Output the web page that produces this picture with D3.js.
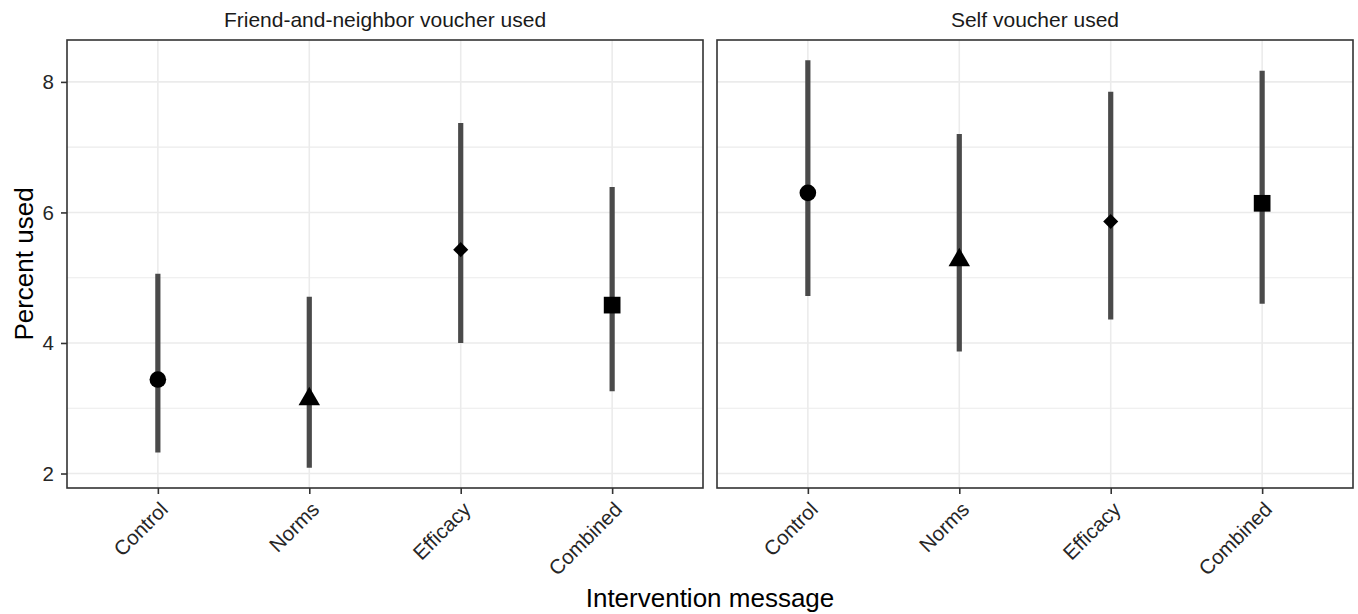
<!DOCTYPE html>
<html>
<head>
<meta charset="utf-8">
<script src="https://cdn.jsdelivr.net/npm/d3@7"></script>
<style>
  body { margin: 0; background: #fff; }
  svg { display: block; font-family: "Liberation Sans", Arial, sans-serif; }
</style>
</head>
<body>
<svg id="chart" width="1358" height="614"></svg>
<script>
// categories and panels
const messages = ["Control", "Norms", "Efficacy", "Combined"];
const panels = ["Friend-and-neighbor voucher used", "Self voucher used"];
const shapes = ["circle", "triangle", "diamond", "square"];

// percent used, with lower / upper interval, per panel
const friendEst = [3.44, 3.14, 5.43, 4.58];
const friendLow = [2.32, 2.09, 4.00, 3.26];
const friendHigh = [5.06, 4.71, 7.37, 6.39];

const selfEst = [6.30, 5.27, 5.86, 6.14];
const selfLow = [4.72, 3.87, 4.36, 4.60];
const selfHigh = [8.33, 7.20, 7.85, 8.17];

const yTicks = [2, 4, 6, 8];
const yMinor = [3, 5, 7];

const panelData = [
  { title: panels[0], est: friendEst, low: friendLow, high: friendHigh },
  { title: panels[1], est: selfEst, low: selfLow, high: selfHigh }
];

const svg = d3.select("#chart");
const panelW = 636, panelTop = 40, panelBottom = 488;
const panelLefts = [67, 717];

// y scale with ggplot-style 5% expansion
const allVals = selfLow.concat(friendLow, selfHigh, friendHigh);
const [ymin, ymax] = d3.extent(allVals);
const pad = (ymax - ymin) * 0.05;
const y = d3.scaleLinear()
  .domain([ymin - pad, ymax + pad])
  .range([panelBottom, panelTop]);

const symbolFor = {
  circle: d3.symbol().type(d3.symbolCircle).size(217),
  triangle: d3.symbol().type(d3.symbolTriangle).size(200),
  square: d3.symbol().type(d3.symbolSquare).size(279),
  diamond: d3.symbol().type(d3.symbolSquare).size(114)
};

panelData.forEach((p, i) => {
  const left = panelLefts[i];
  const x = d3.scalePoint()
    .domain(messages)
    .range([left, left + panelW])
    .padding(0.6);

  const g = svg.append("g");

  // grid
  g.selectAll("line.minor")
    .data(yMinor)
    .join("line")
    .attr("x1", left).attr("x2", left + panelW)
    .attr("y1", d => y(d)).attr("y2", d => y(d))
    .style("stroke", "#ebebeb").style("stroke-width", 1.1);

  g.selectAll("line.major")
    .data(yTicks)
    .join("line")
    .attr("x1", left).attr("x2", left + panelW)
    .attr("y1", d => y(d)).attr("y2", d => y(d))
    .style("stroke", "#ebebeb").style("stroke-width", 1.6);

  g.selectAll("line.vgrid")
    .data(messages)
    .join("line")
    .attr("x1", d => x(d)).attr("x2", d => x(d))
    .attr("y1", panelTop).attr("y2", panelBottom)
    .style("stroke", "#ebebeb").style("stroke-width", 1.6);

  // strip title
  svg.append("text")
    .attr("x", left + panelW / 2)
    .attr("y", 27)
    .attr("text-anchor", "middle")
    .style("font-size", "21px")
    .style("fill", "#1a1a1a")
    .text(p.title);

  // error bars
  const rows = messages.map((m, k) => ({
    m, est: p.est[k], low: p.low[k], high: p.high[k], shape: shapes[k]
  }));

  g.selectAll("line.err")
    .data(rows)
    .join("line")
    .attr("x1", d => x(d.m)).attr("x2", d => x(d.m))
    .attr("y1", d => y(d.low)).attr("y2", d => y(d.high))
    .style("stroke", "#4a4a4a")
    .style("stroke-width", 5.2);

  // points
  g.selectAll("path.pt")
    .data(rows)
    .join("path")
    .attr("d", d => symbolFor[d.shape]())
    .attr("transform", d => `translate(${x(d.m)},${y(d.est)})` + (d.shape === "diamond" ? " rotate(45)" : ""))
    .style("fill", "#000");

  // panel border
  g.append("rect")
    .attr("x", left).attr("y", panelTop)
    .attr("width", panelW).attr("height", panelBottom - panelTop)
    .style("fill", "none")
    .style("stroke", "#333")
    .style("stroke-width", 1.6);

  // x axis
  const xAxis = g.append("g")
    .attr("transform", `translate(0,${panelBottom})`)
    .call(d3.axisBottom(x).tickSize(6).tickSizeOuter(0));
  xAxis.select(".domain").remove();
  xAxis.selectAll(".tick line").style("stroke", "#333").style("stroke-width", 1.6);
  xAxis.selectAll(".tick text")
    .attr("y", 0).attr("dy", 0)
    .attr("transform", "translate(0,12) rotate(-45)")
    .attr("text-anchor", "end")
    .attr("dominant-baseline", "hanging")
    .style("font-size", "20.5px")
    .style("font-family", "Liberation Sans, Arial, sans-serif")
    .style("fill", "#262626");

  // y axis on the left panel only
  if (i === 0) {
    const yAxis = g.append("g")
      .attr("transform", `translate(${left},0)`)
      .call(d3.axisLeft(y).tickValues(yTicks).tickFormat(d3.format("d")).tickSize(6).tickPadding(7));
    yAxis.select(".domain").remove();
    yAxis.selectAll(".tick line").style("stroke", "#333").style("stroke-width", 1.6);
    yAxis.selectAll(".tick text")
      .style("font-size", "20.5px")
      .style("font-family", "Liberation Sans, Arial, sans-serif")
      .style("fill", "#262626");
  }
});

// axis titles
svg.append("text")
  .attr("x", 710)
  .attr("y", 607)
  .attr("text-anchor", "middle")
  .style("font-size", "26px")
  .style("fill", "#000")
  .text("Intervention message");

svg.append("text")
  .attr("transform", `translate(33,${(panelTop + panelBottom) / 2}) rotate(-90)`)
  .attr("text-anchor", "middle")
  .style("font-size", "26px")
  .style("fill", "#000")
  .text("Percent used");
</script>
</body>
</html>
